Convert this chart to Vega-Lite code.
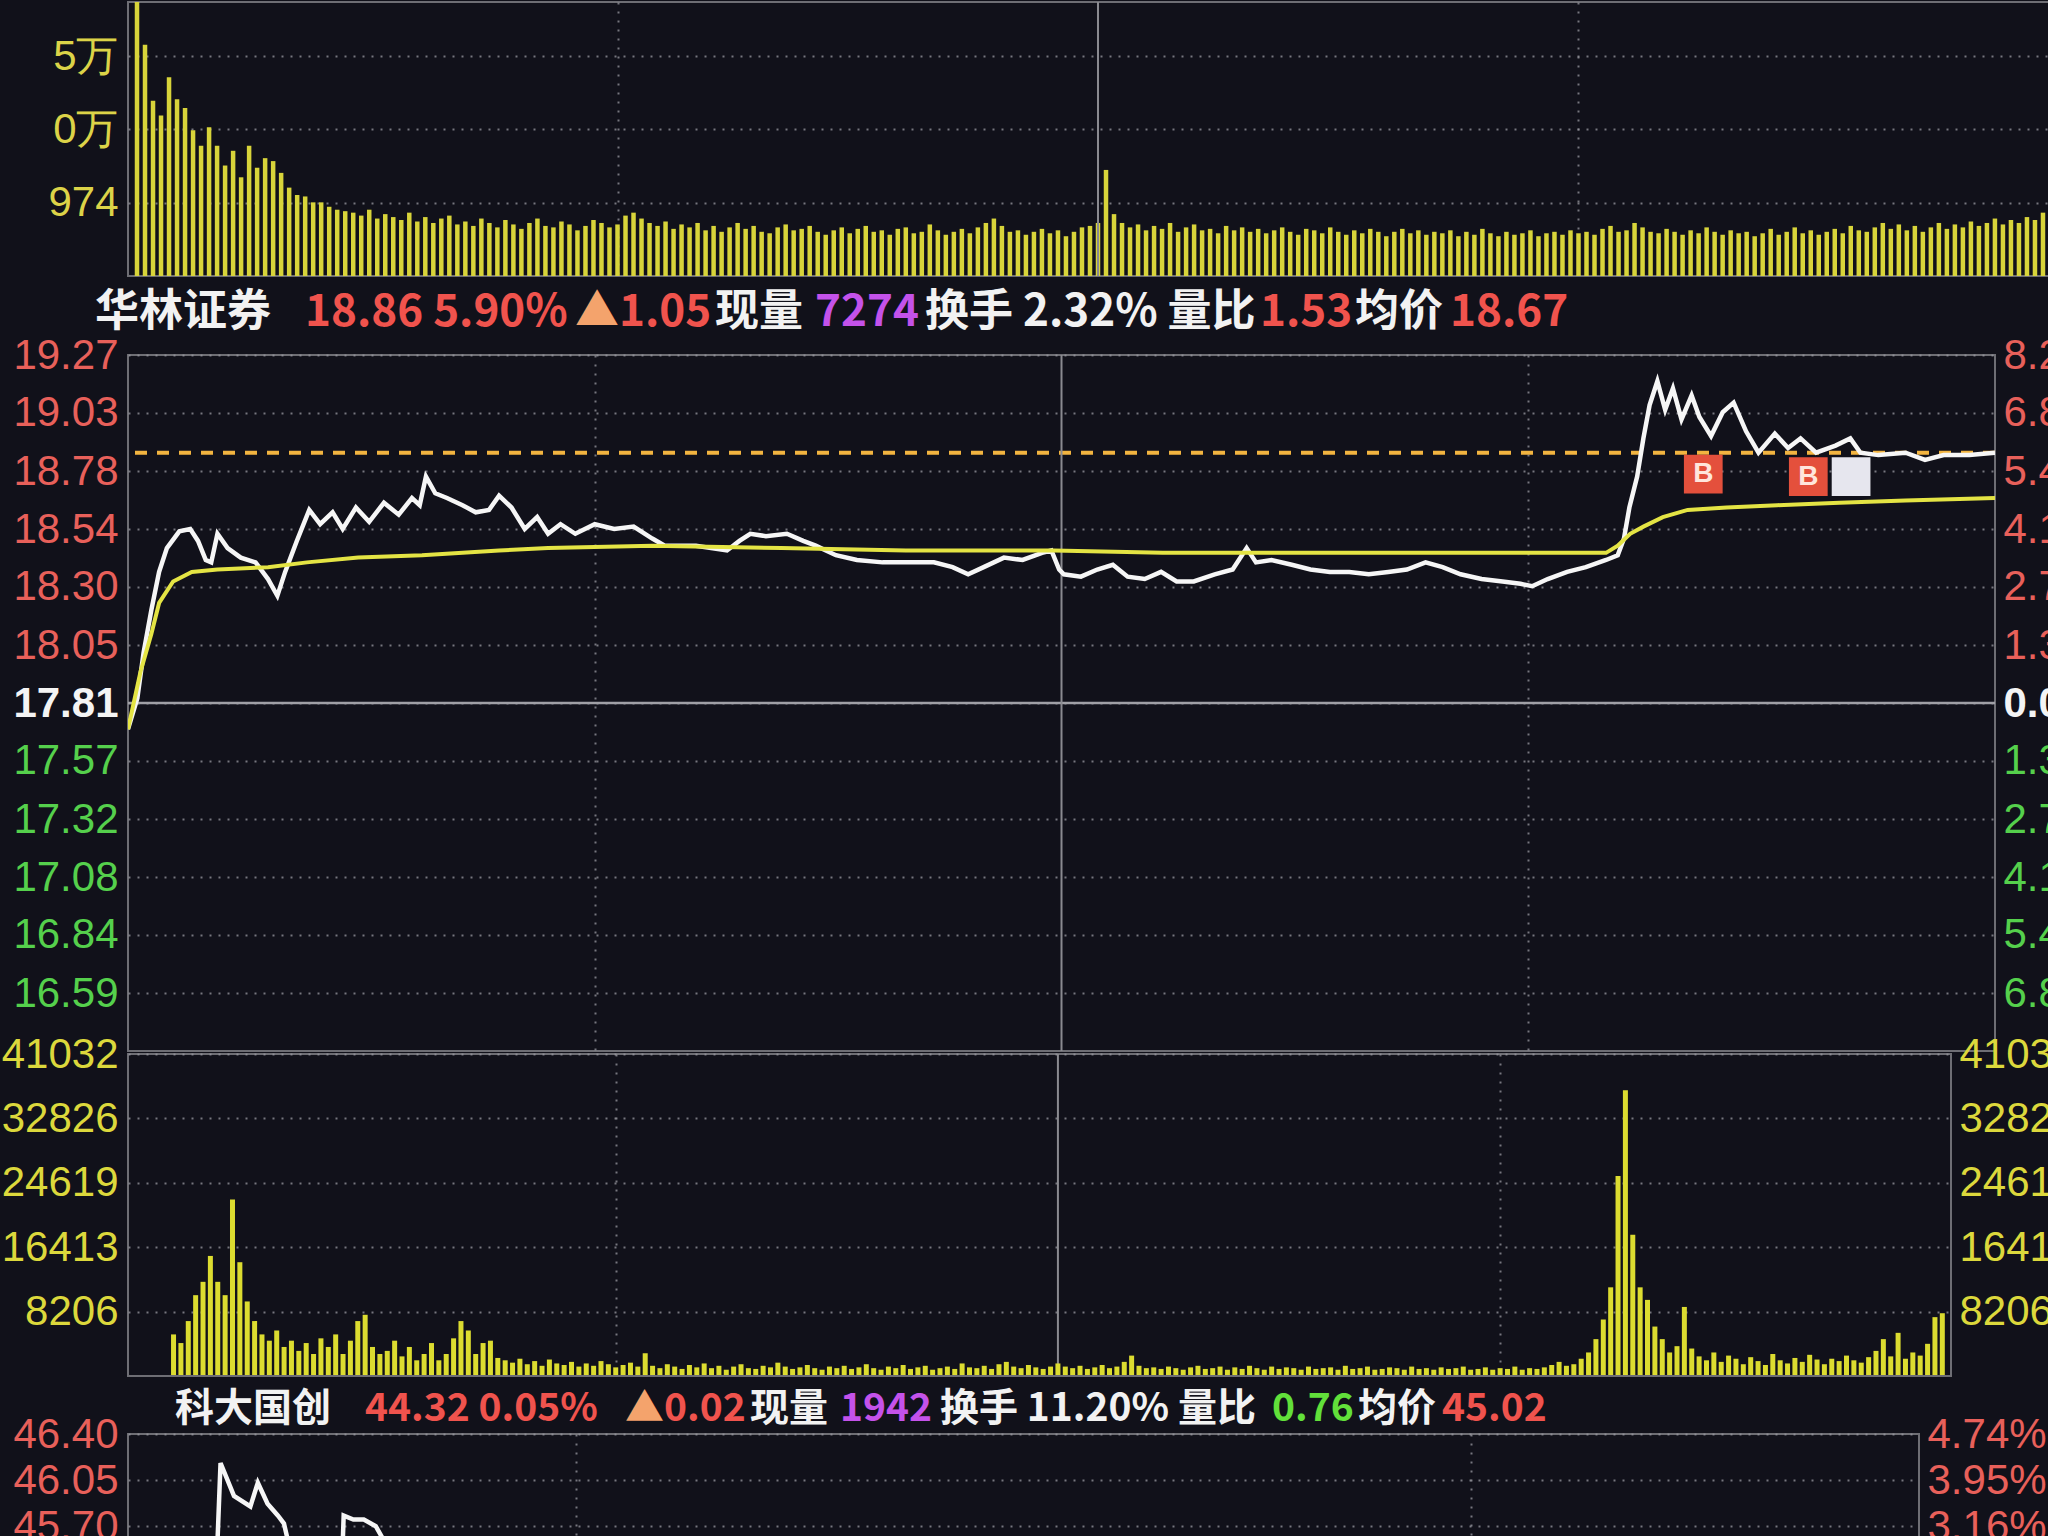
{
  "$schema": "https://vega.github.io/schema/vega-lite/v6.json",
  "background": "#11111a",
  "padding": 0,
  "spacing": -21,
  "resolve": {"scale": {"color": "independent"}},
  "config": {
    "view": {"stroke": "#6e6e74", "strokeWidth": 2},
    "axis": {
      "labelFont": "Liberation Sans", "labelFontSize": 42, "ticks": false, "domain": false,
      "labelPadding": 10, "gridColor": "#9a9aa0", "gridDash": [2, 7], "gridWidth": 2, "gridOpacity": 0.75,
      "labelOverlap": false, "labelFlush": false, "labelBound": false
    }
  },
  "datasets": {
    "topvol": [
      {"m":0,"v":24000},{"m":1,"v":15700},{"m":2,"v":11900},{"m":3,"v":10900},{"m":4,"v":13500},{"m":5,"v":12000},{"m":6,"v":11400},{"m":7,"v":9900},{"m":8,"v":8850},{"m":9,"v":10100},
      {"m":10,"v":8850},{"m":11,"v":7500},{"m":12,"v":8500},{"m":13,"v":6700},{"m":14,"v":8850},{"m":15,"v":7350},{"m":16,"v":8000},{"m":17,"v":7800},{"m":18,"v":7000},{"m":19,"v":6000},
      {"m":20,"v":5500},{"m":21,"v":5400},{"m":22,"v":5000},{"m":23,"v":5000},{"m":24,"v":4700},{"m":25,"v":4500},{"m":26,"v":4400},{"m":27,"v":4300},{"m":28,"v":4100},{"m":29,"v":4500},
      {"m":30,"v":3900},{"m":31,"v":4200},{"m":32,"v":4000},{"m":33,"v":3800},{"m":34,"v":4300},{"m":35,"v":3700},{"m":36,"v":4000},{"m":37,"v":3600},{"m":38,"v":3900},{"m":39,"v":4100},
      {"m":40,"v":3500},{"m":41,"v":3700},{"m":42,"v":3400},{"m":43,"v":3900},{"m":44,"v":3600},{"m":45,"v":3300},{"m":46,"v":3800},{"m":47,"v":3500},{"m":48,"v":3200},{"m":49,"v":3600},
      {"m":50,"v":3900},{"m":51,"v":3400},{"m":52,"v":3300},{"m":53,"v":3700},{"m":54,"v":3500},{"m":55,"v":3100},{"m":56,"v":3400},{"m":57,"v":3800},{"m":58,"v":3600},{"m":59,"v":3300},
      {"m":60,"v":3500},{"m":61,"v":4100},{"m":62,"v":4300},{"m":63,"v":3900},{"m":64,"v":3600},{"m":65,"v":3400},{"m":66,"v":3700},{"m":67,"v":3200},{"m":68,"v":3500},{"m":69,"v":3300},
      {"m":70,"v":3600},{"m":71,"v":3100},{"m":72,"v":3400},{"m":73,"v":3000},{"m":74,"v":3300},{"m":75,"v":3600},{"m":76,"v":3200},{"m":77,"v":3400},{"m":78,"v":3000},{"m":79,"v":2900},
      {"m":80,"v":3300},{"m":81,"v":3500},{"m":82,"v":3100},{"m":83,"v":3200},{"m":84,"v":3400},{"m":85,"v":3000},{"m":86,"v":2800},{"m":87,"v":3100},{"m":88,"v":3300},{"m":89,"v":2900},
      {"m":90,"v":3200},{"m":91,"v":3400},{"m":92,"v":3000},{"m":93,"v":3100},{"m":94,"v":2800},{"m":95,"v":3200},{"m":96,"v":3300},{"m":97,"v":2900},{"m":98,"v":3000},{"m":99,"v":3500},
      {"m":100,"v":3100},{"m":101,"v":2800},{"m":102,"v":3000},{"m":103,"v":3200},{"m":104,"v":2900},{"m":105,"v":3300},{"m":106,"v":3600},{"m":107,"v":3900},{"m":108,"v":3400},{"m":109,"v":3000},
      {"m":110,"v":3100},{"m":111,"v":2800},{"m":112,"v":3000},{"m":113,"v":3200},{"m":114,"v":2900},{"m":115,"v":3100},{"m":116,"v":2700},{"m":117,"v":3000},{"m":118,"v":3300},{"m":119,"v":3400},
      {"m":120,"v":3600},{"m":121,"v":7200},{"m":122,"v":4200},{"m":123,"v":3600},{"m":124,"v":3300},{"m":125,"v":3500},{"m":126,"v":3100},{"m":127,"v":3400},{"m":128,"v":3200},{"m":129,"v":3600},
      {"m":130,"v":3000},{"m":131,"v":3300},{"m":132,"v":3500},{"m":133,"v":3100},{"m":134,"v":3200},{"m":135,"v":2900},{"m":136,"v":3400},{"m":137,"v":3100},{"m":138,"v":3300},{"m":139,"v":3000},
      {"m":140,"v":3200},{"m":141,"v":2900},{"m":142,"v":3100},{"m":143,"v":3300},{"m":144,"v":3000},{"m":145,"v":2800},{"m":146,"v":3200},{"m":147,"v":3100},{"m":148,"v":2900},{"m":149,"v":3300},
      {"m":150,"v":3000},{"m":151,"v":2800},{"m":152,"v":3100},{"m":153,"v":2900},{"m":154,"v":3200},{"m":155,"v":3000},{"m":156,"v":2700},{"m":157,"v":3000},{"m":158,"v":3200},{"m":159,"v":2900},
      {"m":160,"v":3100},{"m":161,"v":2800},{"m":162,"v":3000},{"m":163,"v":2900},{"m":164,"v":3100},{"m":165,"v":2700},{"m":166,"v":3000},{"m":167,"v":2800},{"m":168,"v":3200},{"m":169,"v":2900},
      {"m":170,"v":2700},{"m":171,"v":3000},{"m":172,"v":2800},{"m":173,"v":2900},{"m":174,"v":3100},{"m":175,"v":2700},{"m":176,"v":2900},{"m":177,"v":3000},{"m":178,"v":2800},{"m":179,"v":3100},
      {"m":180,"v":2900},{"m":181,"v":3000},{"m":182,"v":2800},{"m":183,"v":3200},{"m":184,"v":3400},{"m":185,"v":3000},{"m":186,"v":3100},{"m":187,"v":3600},{"m":188,"v":3300},{"m":189,"v":3000},
      {"m":190,"v":2900},{"m":191,"v":3200},{"m":192,"v":3000},{"m":193,"v":2800},{"m":194,"v":3100},{"m":195,"v":2900},{"m":196,"v":3300},{"m":197,"v":3000},{"m":198,"v":2800},{"m":199,"v":3100},
      {"m":200,"v":2900},{"m":201,"v":3000},{"m":202,"v":2700},{"m":203,"v":2900},{"m":204,"v":3200},{"m":205,"v":2800},{"m":206,"v":3000},{"m":207,"v":3300},{"m":208,"v":2900},{"m":209,"v":3100},
      {"m":210,"v":2800},{"m":211,"v":3000},{"m":212,"v":3200},{"m":213,"v":2900},{"m":214,"v":3400},{"m":215,"v":3100},{"m":216,"v":3000},{"m":217,"v":3300},{"m":218,"v":3600},{"m":219,"v":3200},
      {"m":220,"v":3500},{"m":221,"v":3100},{"m":222,"v":3400},{"m":223,"v":3000},{"m":224,"v":3300},{"m":225,"v":3600},{"m":226,"v":3200},{"m":227,"v":3500},{"m":228,"v":3300},{"m":229,"v":3700},
      {"m":230,"v":3400},{"m":231,"v":3600},{"m":232,"v":3900},{"m":233,"v":3500},{"m":234,"v":3800},{"m":235,"v":3600},{"m":236,"v":4000},{"m":237,"v":3800},{"m":238,"v":4300},{"m":239,"v":4400},
      {"m":240,"v":4800}
    ],
    "price": [
      {"m":0,"p":17.70},{"m":1.2,"p":17.83},{"m":2,"p":18.02},{"m":3,"p":18.20},{"m":4,"p":18.36},{"m":5,"p":18.46},{"m":6.6,"p":18.53},{"m":8,"p":18.54},{"m":9,"p":18.49},{"m":10,"p":18.41},
      {"m":10.7,"p":18.40},{"m":11.5,"p":18.52},{"m":12.8,"p":18.46},{"m":14.5,"p":18.42},{"m":16.4,"p":18.40},{"m":18,"p":18.33},{"m":19.2,"p":18.26},{"m":20.2,"p":18.36},{"m":21.7,"p":18.49},{"m":23.3,"p":18.62},
      {"m":24.7,"p":18.56},{"m":26.3,"p":18.61},{"m":27.6,"p":18.54},{"m":29.3,"p":18.63},{"m":31,"p":18.57},{"m":32.9,"p":18.65},{"m":34.8,"p":18.60},{"m":36.5,"p":18.67},{"m":37.5,"p":18.64},{"m":38.3,"p":18.76},
      {"m":39.5,"p":18.69},{"m":41,"p":18.67},{"m":43,"p":18.64},{"m":44.7,"p":18.61},{"m":46.4,"p":18.62},{"m":47.7,"p":18.68},{"m":49.3,"p":18.63},{"m":51,"p":18.54},{"m":52.6,"p":18.59},{"m":54,"p":18.52},
      {"m":55.6,"p":18.56},{"m":57.5,"p":18.52},{"m":60,"p":18.56},{"m":62.5,"p":18.54},{"m":65,"p":18.55},{"m":67.4,"p":18.50},{"m":69,"p":18.47},{"m":73,"p":18.47},{"m":77,"p":18.45},{"m":78.6,"p":18.49},
      {"m":80,"p":18.52},{"m":82,"p":18.51},{"m":84.7,"p":18.52},{"m":86.8,"p":18.49},{"m":88.4,"p":18.47},{"m":91,"p":18.43},{"m":93.7,"p":18.41},{"m":97,"p":18.40},{"m":100,"p":18.40},{"m":103.6,"p":18.40},
      {"m":106,"p":18.38},{"m":108,"p":18.35},{"m":110,"p":18.38},{"m":112.6,"p":18.42},{"m":115,"p":18.41},{"m":117.5,"p":18.44},{"m":118.7,"p":18.45},{"m":119.7,"p":18.37},{"m":120.3,"p":18.35},{"m":122.5,"p":18.34},
      {"m":124.6,"p":18.37},{"m":126.6,"p":18.39},{"m":128.5,"p":18.34},{"m":130.7,"p":18.33},{"m":132.8,"p":18.36},{"m":134.8,"p":18.32},{"m":137,"p":18.32},{"m":139.7,"p":18.35},{"m":142,"p":18.37},{"m":143.8,"p":18.46},
      {"m":145,"p":18.40},{"m":147,"p":18.41},{"m":149.6,"p":18.39},{"m":152,"p":18.37},{"m":154.5,"p":18.36},{"m":157,"p":18.36},{"m":159.5,"p":18.35},{"m":162,"p":18.36},{"m":164.4,"p":18.37},{"m":166.8,"p":18.40},
      {"m":169,"p":18.38},{"m":171.3,"p":18.35},{"m":174,"p":18.33},{"m":176.7,"p":18.32},{"m":179,"p":18.31},{"m":180.5,"p":18.30},{"m":182.5,"p":18.33},{"m":185,"p":18.36},{"m":187.4,"p":18.38},{"m":190,"p":18.41},
      {"m":191.5,"p":18.43},{"m":192.3,"p":18.50},{"m":193,"p":18.63},{"m":194,"p":18.76},{"m":194.8,"p":18.92},{"m":195.6,"p":19.06},{"m":196.6,"p":19.16},{"m":197.6,"p":19.04},{"m":198.6,"p":19.13},{"m":199.7,"p":19.00},
      {"m":201,"p":19.10},{"m":202,"p":19.01},{"m":203.5,"p":18.93},{"m":205,"p":19.03},{"m":206.4,"p":19.07},{"m":208,"p":18.95},{"m":209.6,"p":18.86},{"m":211.7,"p":18.94},{"m":213.4,"p":18.88},{"m":215,"p":18.92},
      {"m":217,"p":18.86},{"m":219.5,"p":18.89},{"m":221.4,"p":18.92},{"m":222.7,"p":18.86},{"m":225,"p":18.85},{"m":228.5,"p":18.86},{"m":231,"p":18.83},{"m":233.4,"p":18.85},{"m":236.7,"p":18.85},{"m":240,"p":18.86}
    ],
    "avg": [
      {"m":0,"a":17.70},{"m":1.6,"a":17.94},{"m":3,"a":18.10},{"m":4,"a":18.23},{"m":5.8,"a":18.32},{"m":8.2,"a":18.36},{"m":11.5,"a":18.37},{"m":18,"a":18.38},{"m":23,"a":18.40},{"m":29.6,"a":18.42},
      {"m":37.8,"a":18.43},{"m":47.7,"a":18.45},{"m":54,"a":18.46},{"m":67.4,"a":18.47},{"m":84,"a":18.46},{"m":100,"a":18.45},{"m":119,"a":18.45},{"m":133,"a":18.44},{"m":149.6,"a":18.44},{"m":166,"a":18.44},
      {"m":190,"a":18.44},{"m":191.5,"a":18.47},{"m":193.1,"a":18.52},{"m":194.8,"a":18.55},{"m":197.3,"a":18.59},{"m":200.5,"a":18.62},{"m":205.5,"a":18.63},{"m":212,"a":18.64},{"m":220,"a":18.65},{"m":228.5,"a":18.66},
      {"m":240,"a":18.67}
    ],
    "signals": [
      {"m":202.5,"p":18.77,"k":"B","t":"B"},
      {"m":216,"p":18.76,"k":"B","t":"B"},
      {"m":221.5,"p":18.76,"k":"W","t":""}
    ],
    "noon": [{"m":120}],
    "pxlast": [{"p":18.86}],
    "pxprev": [{"p":17.81}],
    "volbase": [{"v":0}],
    "kdprev": [{"p":44.30}],
    "vol": [
      {"m":0,"v":5300},{"m":1,"v":4200},{"m":2,"v":7000},{"m":3,"v":10300},{"m":4,"v":12000},{"m":5,"v":15300},{"m":6,"v":12000},{"m":7,"v":10300},{"m":8,"v":22500},{"m":9,"v":14500},
      {"m":10,"v":9500},{"m":11,"v":7000},{"m":12,"v":5300},{"m":13,"v":4500},{"m":14,"v":5800},{"m":15,"v":3700},{"m":16,"v":4500},{"m":17,"v":3200},{"m":18,"v":4200},{"m":19,"v":2800},
      {"m":20,"v":4800},{"m":21,"v":3700},{"m":22,"v":5300},{"m":23,"v":2800},{"m":24,"v":4500},{"m":25,"v":7000},{"m":26,"v":7800},{"m":27,"v":3700},{"m":28,"v":2800},{"m":29,"v":3200},
      {"m":30,"v":4500},{"m":31,"v":2500},{"m":32,"v":3700},{"m":33,"v":2000},{"m":34,"v":2800},{"m":35,"v":4200},{"m":36,"v":2000},{"m":37,"v":2800},{"m":38,"v":4800},{"m":39,"v":7000},
      {"m":40,"v":5800},{"m":41,"v":2800},{"m":42,"v":4200},{"m":43,"v":4500},{"m":44,"v":2300},{"m":45,"v":2000},{"m":46,"v":1700},{"m":47,"v":2200},{"m":48,"v":1500},{"m":49,"v":1900},
      {"m":50,"v":1300},{"m":51,"v":2100},{"m":52,"v":1600},{"m":53,"v":1400},{"m":54,"v":1800},{"m":55,"v":1200},{"m":56,"v":1600},{"m":57,"v":1300},{"m":58,"v":1900},{"m":59,"v":1500},
      {"m":60,"v":1100},{"m":61,"v":1400},{"m":62,"v":1700},{"m":63,"v":1200},{"m":64,"v":2900},{"m":65,"v":1300},{"m":66,"v":1000},{"m":67,"v":1500},{"m":68,"v":1200},{"m":69,"v":900},
      {"m":70,"v":1400},{"m":71,"v":1100},{"m":72,"v":1600},{"m":73,"v":1000},{"m":74,"v":1300},{"m":75,"v":800},{"m":76,"v":1200},{"m":77,"v":1500},{"m":78,"v":1000},{"m":79,"v":900},
      {"m":80,"v":1300},{"m":81,"v":1100},{"m":82,"v":1700},{"m":83,"v":1200},{"m":84,"v":900},{"m":85,"v":1100},{"m":86,"v":1400},{"m":87,"v":1000},{"m":88,"v":800},{"m":89,"v":1200},
      {"m":90,"v":1000},{"m":91,"v":1300},{"m":92,"v":900},{"m":93,"v":1100},{"m":94,"v":1500},{"m":95,"v":1000},{"m":96,"v":800},{"m":97,"v":1200},{"m":98,"v":1000},{"m":99,"v":1400},
      {"m":100,"v":900},{"m":101,"v":1100},{"m":102,"v":1300},{"m":103,"v":800},{"m":104,"v":1000},{"m":105,"v":1200},{"m":106,"v":900},{"m":107,"v":1600},{"m":108,"v":1100},{"m":109,"v":1000},
      {"m":110,"v":1300},{"m":111,"v":900},{"m":112,"v":1500},{"m":113,"v":1800},{"m":114,"v":1200},{"m":115,"v":1000},{"m":116,"v":1400},{"m":117,"v":1100},{"m":118,"v":900},{"m":119,"v":1200},
      {"m":120,"v":1600},{"m":121,"v":1200},{"m":122,"v":1000},{"m":123,"v":1300},{"m":124,"v":900},{"m":125,"v":1100},{"m":126,"v":1400},{"m":127,"v":1000},{"m":128,"v":1200},{"m":129,"v":1800},
      {"m":130,"v":2600},{"m":131,"v":1300},{"m":132,"v":1000},{"m":133,"v":1100},{"m":134,"v":900},{"m":135,"v":1200},{"m":136,"v":1000},{"m":137,"v":800},{"m":138,"v":1100},{"m":139,"v":1300},
      {"m":140,"v":900},{"m":141,"v":1000},{"m":142,"v":1200},{"m":143,"v":800},{"m":144,"v":1100},{"m":145,"v":900},{"m":146,"v":1300},{"m":147,"v":1000},{"m":148,"v":800},{"m":149,"v":1200},
      {"m":150,"v":900},{"m":151,"v":1100},{"m":152,"v":1000},{"m":153,"v":800},{"m":154,"v":1200},{"m":155,"v":900},{"m":156,"v":1000},{"m":157,"v":1100},{"m":158,"v":800},{"m":159,"v":1300},
      {"m":160,"v":900},{"m":161,"v":1000},{"m":162,"v":1200},{"m":163,"v":800},{"m":164,"v":900},{"m":165,"v":1100},{"m":166,"v":1000},{"m":167,"v":800},{"m":168,"v":1200},{"m":169,"v":900},
      {"m":170,"v":1000},{"m":171,"v":800},{"m":172,"v":1100},{"m":173,"v":900},{"m":174,"v":1000},{"m":175,"v":1200},{"m":176,"v":800},{"m":177,"v":900},{"m":178,"v":1100},{"m":179,"v":800},
      {"m":180,"v":1000},{"m":181,"v":900},{"m":182,"v":1200},{"m":183,"v":800},{"m":184,"v":1000},{"m":185,"v":900},{"m":186,"v":1100},{"m":187,"v":1400},{"m":188,"v":1800},{"m":189,"v":1300},
      {"m":190,"v":1500},{"m":191,"v":2200},{"m":192,"v":3000},{"m":193,"v":4700},{"m":194,"v":7200},{"m":195,"v":11300},{"m":196,"v":25500},{"m":197,"v":36400},{"m":198,"v":18000},{"m":199,"v":11300},
      {"m":200,"v":9700},{"m":201,"v":6300},{"m":202,"v":4700},{"m":203,"v":3000},{"m":204,"v":3800},{"m":205,"v":8800},{"m":206,"v":3500},{"m":207,"v":2500},{"m":208,"v":2000},{"m":209,"v":3000},
      {"m":210,"v":1800},{"m":211,"v":2600},{"m":212,"v":2200},{"m":213,"v":1500},{"m":214,"v":2400},{"m":215,"v":1900},{"m":216,"v":1400},{"m":217,"v":2800},{"m":218,"v":2000},{"m":219,"v":1600},
      {"m":220,"v":2300},{"m":221,"v":1800},{"m":222,"v":2700},{"m":223,"v":2100},{"m":224,"v":1500},{"m":225,"v":2200},{"m":226,"v":1900},{"m":227,"v":2600},{"m":228,"v":2000},{"m":229,"v":1700},
      {"m":230,"v":2400},{"m":231,"v":3200},{"m":232,"v":4700},{"m":233,"v":2500},{"m":234,"v":5500},{"m":235,"v":2200},{"m":236,"v":3000},{"m":237,"v":2600},{"m":238,"v":4100},{"m":239,"v":7500},
      {"m":240,"v":8000}
    ],
    "kdprice": [
      {"m":0,"p":45.30},{"m":6,"p":45.20},{"m":11.9,"p":45.45},{"m":12.4,"p":46.18},{"m":14.2,"p":45.93},{"m":16.4,"p":45.85},{"m":17.4,"p":46.03},{"m":18.7,"p":45.87},{"m":20.1,"p":45.78},{"m":20.9,"p":45.72},
      {"m":21.8,"p":45.50},{"m":25,"p":45.30},{"m":28.7,"p":45.45},{"m":28.9,"p":45.78},{"m":30.2,"p":45.75},{"m":31.6,"p":45.75},{"m":33.2,"p":45.70},{"m":35.2,"p":45.50},{"m":40,"p":45.35},{"m":50,"p":45.10}
    ],
    "hdr1": [
      {"g":1,"t":"华林证券","tone":"plain"},
      {"g":2,"t":"18.86 5.90%","tone":"up"},
      {"g":3,"t":"▲","tone":"arrow"},
      {"g":4,"t":"1.05","tone":"up"},
      {"g":5,"t":"现量","tone":"plain"},
      {"g":6,"t":"7274","tone":"vol"},
      {"g":7,"t":"换手 2.32% 量比","tone":"plain"},
      {"g":8,"t":"1.53","tone":"up"},
      {"g":9,"t":"均价","tone":"plain"},
      {"g":10,"t":"18.67","tone":"up"}
    ],
    "hdr2": [
      {"g":1,"t":"科大国创","tone":"plain"},
      {"g":2,"t":"44.32 0.05%","tone":"up"},
      {"g":3,"t":"▲","tone":"arrow"},
      {"g":4,"t":"0.02","tone":"up"},
      {"g":5,"t":"现量","tone":"plain"},
      {"g":6,"t":"1942","tone":"vol"},
      {"g":7,"t":"换手 11.20% 量比","tone":"plain"},
      {"g":8,"t":"0.76","tone":"down"},
      {"g":9,"t":"均价","tone":"plain"},
      {"g":10,"t":"45.02","tone":"up"}
    ]
  },
  "vconcat": [
    {
      "width": 1940, "height": 274,
      "layer": [
        {
          "data": {"name": "topvol"},
          "mark": {"type": "bar", "color": "#d8d43a", "size": 4.5, "clip": true},
          "encoding": {
            "x": {"field": "m", "type": "quantitative", "title": null, "scale": {"domain": [-0.5, 240.5], "nice": false}, "axis": {"labels": false, "grid": true, "values": [60, 180], "title": null}},
            "y": {"field": "v", "type": "quantitative", "title": null, "scale": {"domain": [0, 18600], "nice": false},
                  "axis": {"values": [4974, 9948, 14922], "grid": true, "labelColor": "#dcd348",
                           "labelExpr": "datum.value > 14000 ? '5万' : (datum.value > 9000 ? '0万' : '974')"}}
          }
        },
        {
          "data": {"name": "noon"},
          "mark": {"type": "rule", "color": "#8a8a90", "strokeWidth": 2},
          "encoding": {"x": {"field": "m", "type": "quantitative", "title": null, "scale": {"domain": [-0.5, 240.5], "nice": false}, "axis": {"labels": false, "grid": true, "values": [60, 180], "title": null}}}
        }
      ]
    },
    {
      "hconcat": [
        {"width": 210, "height": 76, "view": {"stroke": null}, "data": {"name": "hdr1"}, "transform": [{"filter": "datum.g == 1"}],
         "mark": {"type": "text", "align": "left", "baseline": "middle", "dx": -33, "dy": -3, "font": "Noto Sans CJK SC", "fontSize": 44, "fontWeight": "bold"},
         "encoding": {"x": {"datum": 0, "type": "quantitative", "scale": {"domain": [0, 1]}, "axis": null}, "text": {"field": "t", "type": "nominal"},
                      "color": {"field": "tone", "type": "nominal", "legend": null, "scale": {"domain": ["plain", "up", "down", "vol", "arrow"], "range": ["#f2f2f2", "#f0534d", "#62e03a", "#c452ea", "#f4a36c"]}}}},
        {"width": 270, "height": 76, "view": {"stroke": null}, "data": {"name": "hdr1"}, "transform": [{"filter": "datum.g == 2"}],
         "mark": {"type": "text", "align": "left", "baseline": "middle", "dx": -33, "dy": -3, "font": "Noto Sans CJK SC", "fontSize": 44, "fontWeight": "bold"},
         "encoding": {"x": {"datum": 0, "type": "quantitative", "scale": {"domain": [0, 1]}, "axis": null}, "text": {"field": "t", "type": "nominal"},
                      "color": {"field": "tone", "type": "nominal", "legend": null, "scale": {"domain": ["plain", "up", "down", "vol", "arrow"], "range": ["#f2f2f2", "#f0534d", "#62e03a", "#c452ea", "#f4a36c"]}}}},
        {"width": 44, "height": 76, "view": {"stroke": null}, "data": {"name": "hdr1"}, "transform": [{"filter": "datum.g == 3"}],
         "mark": {"type": "text", "align": "left", "baseline": "middle", "dx": -33, "dy": -3, "font": "Noto Sans CJK SC", "fontSize": 44, "fontWeight": "bold"},
         "encoding": {"x": {"datum": 0, "type": "quantitative", "scale": {"domain": [0, 1]}, "axis": null}, "text": {"field": "t", "type": "nominal"},
                      "color": {"field": "tone", "type": "nominal", "legend": null, "scale": {"domain": ["plain", "up", "down", "vol", "arrow"], "range": ["#f2f2f2", "#f0534d", "#62e03a", "#c452ea", "#f4a36c"]}}}},
        {"width": 96, "height": 76, "view": {"stroke": null}, "data": {"name": "hdr1"}, "transform": [{"filter": "datum.g == 4"}],
         "mark": {"type": "text", "align": "left", "baseline": "middle", "dx": -33, "dy": -3, "font": "Noto Sans CJK SC", "fontSize": 44, "fontWeight": "bold"},
         "encoding": {"x": {"datum": 0, "type": "quantitative", "scale": {"domain": [0, 1]}, "axis": null}, "text": {"field": "t", "type": "nominal"},
                      "color": {"field": "tone", "type": "nominal", "legend": null, "scale": {"domain": ["plain", "up", "down", "vol", "arrow"], "range": ["#f2f2f2", "#f0534d", "#62e03a", "#c452ea", "#f4a36c"]}}}},
        {"width": 100, "height": 76, "view": {"stroke": null}, "data": {"name": "hdr1"}, "transform": [{"filter": "datum.g == 5"}],
         "mark": {"type": "text", "align": "left", "baseline": "middle", "dx": -33, "dy": -3, "font": "Noto Sans CJK SC", "fontSize": 44, "fontWeight": "bold"},
         "encoding": {"x": {"datum": 0, "type": "quantitative", "scale": {"domain": [0, 1]}, "axis": null}, "text": {"field": "t", "type": "nominal"},
                      "color": {"field": "tone", "type": "nominal", "legend": null, "scale": {"domain": ["plain", "up", "down", "vol", "arrow"], "range": ["#f2f2f2", "#f0534d", "#62e03a", "#c452ea", "#f4a36c"]}}}},
        {"width": 110, "height": 76, "view": {"stroke": null}, "data": {"name": "hdr1"}, "transform": [{"filter": "datum.g == 6"}],
         "mark": {"type": "text", "align": "left", "baseline": "middle", "dx": -33, "dy": -3, "font": "Noto Sans CJK SC", "fontSize": 44, "fontWeight": "bold"},
         "encoding": {"x": {"datum": 0, "type": "quantitative", "scale": {"domain": [0, 1]}, "axis": null}, "text": {"field": "t", "type": "nominal"},
                      "color": {"field": "tone", "type": "nominal", "legend": null, "scale": {"domain": ["plain", "up", "down", "vol", "arrow"], "range": ["#f2f2f2", "#f0534d", "#62e03a", "#c452ea", "#f4a36c"]}}}},
        {"width": 335, "height": 76, "view": {"stroke": null}, "data": {"name": "hdr1"}, "transform": [{"filter": "datum.g == 7"}],
         "mark": {"type": "text", "align": "left", "baseline": "middle", "dx": -33, "dy": -3, "font": "Noto Sans CJK SC", "fontSize": 44, "fontWeight": "bold"},
         "encoding": {"x": {"datum": 0, "type": "quantitative", "scale": {"domain": [0, 1]}, "axis": null}, "text": {"field": "t", "type": "nominal"},
                      "color": {"field": "tone", "type": "nominal", "legend": null, "scale": {"domain": ["plain", "up", "down", "vol", "arrow"], "range": ["#f2f2f2", "#f0534d", "#62e03a", "#c452ea", "#f4a36c"]}}}},
        {"width": 95, "height": 76, "view": {"stroke": null}, "data": {"name": "hdr1"}, "transform": [{"filter": "datum.g == 8"}],
         "mark": {"type": "text", "align": "left", "baseline": "middle", "dx": -33, "dy": -3, "font": "Noto Sans CJK SC", "fontSize": 44, "fontWeight": "bold"},
         "encoding": {"x": {"datum": 0, "type": "quantitative", "scale": {"domain": [0, 1]}, "axis": null}, "text": {"field": "t", "type": "nominal"},
                      "color": {"field": "tone", "type": "nominal", "legend": null, "scale": {"domain": ["plain", "up", "down", "vol", "arrow"], "range": ["#f2f2f2", "#f0534d", "#62e03a", "#c452ea", "#f4a36c"]}}}},
        {"width": 95, "height": 76, "view": {"stroke": null}, "data": {"name": "hdr1"}, "transform": [{"filter": "datum.g == 9"}],
         "mark": {"type": "text", "align": "left", "baseline": "middle", "dx": -33, "dy": -3, "font": "Noto Sans CJK SC", "fontSize": 44, "fontWeight": "bold"},
         "encoding": {"x": {"datum": 0, "type": "quantitative", "scale": {"domain": [0, 1]}, "axis": null}, "text": {"field": "t", "type": "nominal"},
                      "color": {"field": "tone", "type": "nominal", "legend": null, "scale": {"domain": ["plain", "up", "down", "vol", "arrow"], "range": ["#f2f2f2", "#f0534d", "#62e03a", "#c452ea", "#f4a36c"]}}}},
        {"width": 170, "height": 76, "view": {"stroke": null}, "data": {"name": "hdr1"}, "transform": [{"filter": "datum.g == 10"}],
         "mark": {"type": "text", "align": "left", "baseline": "middle", "dx": -33, "dy": -3, "font": "Noto Sans CJK SC", "fontSize": 44, "fontWeight": "bold"},
         "encoding": {"x": {"datum": 0, "type": "quantitative", "scale": {"domain": [0, 1]}, "axis": null}, "text": {"field": "t", "type": "nominal"},
                      "color": {"field": "tone", "type": "nominal", "legend": null, "scale": {"domain": ["plain", "up", "down", "vol", "arrow"], "range": ["#f2f2f2", "#f0534d", "#62e03a", "#c452ea", "#f4a36c"]}}}}
      ],
      "spacing": 0,
      "bounds": "flush"
    },
    {
      "width": 1867, "height": 696,
      "resolve": {"scale": {"y": "independent"}},
      "layer": [
        {
          "data": {"name": "pxlast"},
          "mark": {"type": "rule", "color": "#f2b440", "strokeWidth": 4, "strokeDash": [12, 10]},
          "encoding": {"y": {"field": "p", "type": "quantitative", "title": null, "scale": {"domain": [16.35, 19.27], "nice": false}, "axis": null}}
        },
        {
          "data": {"name": "pxprev"},
          "mark": {"type": "rule", "color": "#a0a0a6", "strokeWidth": 2.5},
          "encoding": {"y": {"field": "p", "type": "quantitative", "title": null, "scale": {"domain": [16.35, 19.27], "nice": false},
            "axis": {"orient": "right", "labelPadding": 8,
                     "values": [19.27, 19.0267, 18.7833, 18.54, 18.2967, 18.0533, 17.81, 17.5667, 17.3233, 17.08, 16.8367, 16.5933],
                     "labelExpr": "format(abs(datum.value - 17.81) / 17.81 * 100, '.2f') + '%'",
                     "labelColor": {"expr": "datum.value > 17.815 ? '#e8605a' : (datum.value < 17.805 ? '#55d04c' : '#f4f4f4')"},
                     "labelFontWeight": {"expr": "abs(datum.value - 17.81) < 0.005 ? 'bold' : 'normal'"}}}}
        },
        {
          "data": {"name": "noon"},
          "mark": {"type": "rule", "color": "#8a8a90", "strokeWidth": 2},
          "encoding": {"x": {"field": "m", "type": "quantitative", "title": null, "scale": {"domain": [0, 240], "nice": false}, "axis": {"labels": false, "grid": true, "values": [60, 180], "title": null}}}
        },
        {
          "data": {"name": "price"},
          "mark": {"type": "line", "color": "#f6f6f6", "strokeWidth": 4.5, "clip": true},
          "encoding": {
            "x": {"field": "m", "type": "quantitative", "title": null, "scale": {"domain": [0, 240], "nice": false}, "axis": {"labels": false, "grid": true, "values": [60, 180], "title": null}},
            "y": {"field": "p", "type": "quantitative", "title": null, "scale": {"domain": [16.35, 19.27], "nice": false},
                  "axis": {"grid": true, "format": ".2f",
                           "values": [19.27, 19.0267, 18.7833, 18.54, 18.2967, 18.0533, 17.81, 17.5667, 17.3233, 17.08, 16.8367, 16.5933],
                           "labelColor": {"expr": "datum.value > 17.815 ? '#e8605a' : (datum.value < 17.805 ? '#55d04c' : '#f4f4f4')"},
                           "labelFontWeight": {"expr": "abs(datum.value - 17.81) < 0.005 ? 'bold' : 'normal'"}}}
          }
        },
        {
          "data": {"name": "avg"},
          "mark": {"type": "line", "color": "#e4e444", "strokeWidth": 4, "clip": true},
          "encoding": {
            "x": {"field": "m", "type": "quantitative", "title": null, "scale": {"domain": [0, 240], "nice": false}, "axis": {"labels": false, "grid": true, "values": [60, 180], "title": null}},
            "y": {"field": "a", "type": "quantitative", "title": null, "scale": {"domain": [16.35, 19.27], "nice": false}, "axis": null}
          }
        },
        {
          "data": {"name": "signals"},
          "mark": {"type": "point", "shape": "square", "filled": true, "size": 1500, "opacity": 1},
          "encoding": {
            "x": {"field": "m", "type": "quantitative", "title": null, "scale": {"domain": [0, 240], "nice": false}, "axis": {"labels": false, "grid": true, "values": [60, 180], "title": null}},
            "y": {"field": "p", "type": "quantitative", "title": null, "scale": {"domain": [16.35, 19.27], "nice": false}, "axis": null},
            "color": {"field": "k", "type": "nominal", "legend": null, "scale": {"domain": ["B", "W"], "range": ["#e4503c", "#e6e6ee"]}}
          }
        },
        {
          "data": {"name": "signals"},
          "mark": {"type": "text", "font": "Liberation Sans", "fontSize": 28, "fontWeight": "bold", "color": "#ffe6dc", "baseline": "middle"},
          "encoding": {
            "x": {"field": "m", "type": "quantitative", "title": null, "scale": {"domain": [0, 240], "nice": false}, "axis": {"labels": false, "grid": true, "values": [60, 180], "title": null}},
            "y": {"field": "p", "type": "quantitative", "title": null, "scale": {"domain": [16.35, 19.27], "nice": false}, "axis": null},
            "text": {"field": "t", "type": "nominal"}
          }
        }
      ]
    },
    {
      "width": 1823, "height": 322,
      "resolve": {"scale": {"y": "independent"}},
      "layer": [
        {
          "data": {"name": "noon"},
          "mark": {"type": "rule", "color": "#8a8a90", "strokeWidth": 2},
          "encoding": {"x": {"field": "m", "type": "quantitative", "title": null, "scale": {"domain": [-5.5, 240.5], "nice": false}, "axis": {"labels": false, "grid": true, "values": [60, 180], "title": null}}}
        },
        {
          "data": {"name": "vol"},
          "mark": {"type": "bar", "color": "#dcdc30", "size": 5, "clip": true},
          "encoding": {
            "x": {"field": "m", "type": "quantitative", "title": null, "scale": {"domain": [-5.5, 240.5], "nice": false}, "axis": {"labels": false, "grid": true, "values": [60, 180], "title": null}},
            "y": {"field": "v", "type": "quantitative", "title": null, "scale": {"domain": [0, 41032], "nice": false},
                  "axis": {"grid": true, "format": "d", "values": [8206.4, 16412.8, 24619.2, 32825.6, 41032], "labelColor": "#dcd83c"}}
          }
        },
        {
          "data": {"name": "volbase"},
          "mark": {"type": "rule", "color": "#6e6e74", "strokeWidth": 2},
          "encoding": {"y": {"field": "v", "type": "quantitative", "title": null, "scale": {"domain": [0, 41032], "nice": false},
            "axis": {"orient": "right", "labelPadding": 8, "format": "d", "values": [8206.4, 16412.8, 24619.2, 32825.6, 41032], "labelColor": "#dcd83c"}}}
        }
      ]
    },
    {
      "hconcat": [
        {"width": 190, "height": 55, "view": {"stroke": null}, "data": {"name": "hdr2"}, "transform": [{"filter": "datum.g == 1"}],
         "mark": {"type": "text", "align": "left", "baseline": "middle", "dx": 47, "dy": 3, "font": "Noto Sans CJK SC", "fontSize": 39, "fontWeight": "bold"},
         "encoding": {"x": {"datum": 0, "type": "quantitative", "scale": {"domain": [0, 1]}, "axis": null}, "text": {"field": "t", "type": "nominal"},
                      "color": {"field": "tone", "type": "nominal", "legend": null, "scale": {"domain": ["plain", "up", "down", "vol", "arrow"], "range": ["#f2f2f2", "#f0534d", "#62e03a", "#c452ea", "#f4a36c"]}}}},
        {"width": 260, "height": 55, "view": {"stroke": null}, "data": {"name": "hdr2"}, "transform": [{"filter": "datum.g == 2"}],
         "mark": {"type": "text", "align": "left", "baseline": "middle", "dx": 47, "dy": 3, "font": "Noto Sans CJK SC", "fontSize": 39, "fontWeight": "bold"},
         "encoding": {"x": {"datum": 0, "type": "quantitative", "scale": {"domain": [0, 1]}, "axis": null}, "text": {"field": "t", "type": "nominal"},
                      "color": {"field": "tone", "type": "nominal", "legend": null, "scale": {"domain": ["plain", "up", "down", "vol", "arrow"], "range": ["#f2f2f2", "#f0534d", "#62e03a", "#c452ea", "#f4a36c"]}}}},
        {"width": 39, "height": 55, "view": {"stroke": null}, "data": {"name": "hdr2"}, "transform": [{"filter": "datum.g == 3"}],
         "mark": {"type": "text", "align": "left", "baseline": "middle", "dx": 47, "dy": 3, "font": "Noto Sans CJK SC", "fontSize": 39, "fontWeight": "bold"},
         "encoding": {"x": {"datum": 0, "type": "quantitative", "scale": {"domain": [0, 1]}, "axis": null}, "text": {"field": "t", "type": "nominal"},
                      "color": {"field": "tone", "type": "nominal", "legend": null, "scale": {"domain": ["plain", "up", "down", "vol", "arrow"], "range": ["#f2f2f2", "#f0534d", "#62e03a", "#c452ea", "#f4a36c"]}}}},
        {"width": 86, "height": 55, "view": {"stroke": null}, "data": {"name": "hdr2"}, "transform": [{"filter": "datum.g == 4"}],
         "mark": {"type": "text", "align": "left", "baseline": "middle", "dx": 47, "dy": 3, "font": "Noto Sans CJK SC", "fontSize": 39, "fontWeight": "bold"},
         "encoding": {"x": {"datum": 0, "type": "quantitative", "scale": {"domain": [0, 1]}, "axis": null}, "text": {"field": "t", "type": "nominal"},
                      "color": {"field": "tone", "type": "nominal", "legend": null, "scale": {"domain": ["plain", "up", "down", "vol", "arrow"], "range": ["#f2f2f2", "#f0534d", "#62e03a", "#c452ea", "#f4a36c"]}}}},
        {"width": 90, "height": 55, "view": {"stroke": null}, "data": {"name": "hdr2"}, "transform": [{"filter": "datum.g == 5"}],
         "mark": {"type": "text", "align": "left", "baseline": "middle", "dx": 47, "dy": 3, "font": "Noto Sans CJK SC", "fontSize": 39, "fontWeight": "bold"},
         "encoding": {"x": {"datum": 0, "type": "quantitative", "scale": {"domain": [0, 1]}, "axis": null}, "text": {"field": "t", "type": "nominal"},
                      "color": {"field": "tone", "type": "nominal", "legend": null, "scale": {"domain": ["plain", "up", "down", "vol", "arrow"], "range": ["#f2f2f2", "#f0534d", "#62e03a", "#c452ea", "#f4a36c"]}}}},
        {"width": 100, "height": 55, "view": {"stroke": null}, "data": {"name": "hdr2"}, "transform": [{"filter": "datum.g == 6"}],
         "mark": {"type": "text", "align": "left", "baseline": "middle", "dx": 47, "dy": 3, "font": "Noto Sans CJK SC", "fontSize": 39, "fontWeight": "bold"},
         "encoding": {"x": {"datum": 0, "type": "quantitative", "scale": {"domain": [0, 1]}, "axis": null}, "text": {"field": "t", "type": "nominal"},
                      "color": {"field": "tone", "type": "nominal", "legend": null, "scale": {"domain": ["plain", "up", "down", "vol", "arrow"], "range": ["#f2f2f2", "#f0534d", "#62e03a", "#c452ea", "#f4a36c"]}}}},
        {"width": 332, "height": 55, "view": {"stroke": null}, "data": {"name": "hdr2"}, "transform": [{"filter": "datum.g == 7"}],
         "mark": {"type": "text", "align": "left", "baseline": "middle", "dx": 47, "dy": 3, "font": "Noto Sans CJK SC", "fontSize": 39, "fontWeight": "bold"},
         "encoding": {"x": {"datum": 0, "type": "quantitative", "scale": {"domain": [0, 1]}, "axis": null}, "text": {"field": "t", "type": "nominal"},
                      "color": {"field": "tone", "type": "nominal", "legend": null, "scale": {"domain": ["plain", "up", "down", "vol", "arrow"], "range": ["#f2f2f2", "#f0534d", "#62e03a", "#c452ea", "#f4a36c"]}}}},
        {"width": 86, "height": 55, "view": {"stroke": null}, "data": {"name": "hdr2"}, "transform": [{"filter": "datum.g == 8"}],
         "mark": {"type": "text", "align": "left", "baseline": "middle", "dx": 47, "dy": 3, "font": "Noto Sans CJK SC", "fontSize": 39, "fontWeight": "bold"},
         "encoding": {"x": {"datum": 0, "type": "quantitative", "scale": {"domain": [0, 1]}, "axis": null}, "text": {"field": "t", "type": "nominal"},
                      "color": {"field": "tone", "type": "nominal", "legend": null, "scale": {"domain": ["plain", "up", "down", "vol", "arrow"], "range": ["#f2f2f2", "#f0534d", "#62e03a", "#c452ea", "#f4a36c"]}}}},
        {"width": 84, "height": 55, "view": {"stroke": null}, "data": {"name": "hdr2"}, "transform": [{"filter": "datum.g == 9"}],
         "mark": {"type": "text", "align": "left", "baseline": "middle", "dx": 47, "dy": 3, "font": "Noto Sans CJK SC", "fontSize": 39, "fontWeight": "bold"},
         "encoding": {"x": {"datum": 0, "type": "quantitative", "scale": {"domain": [0, 1]}, "axis": null}, "text": {"field": "t", "type": "nominal"},
                      "color": {"field": "tone", "type": "nominal", "legend": null, "scale": {"domain": ["plain", "up", "down", "vol", "arrow"], "range": ["#f2f2f2", "#f0534d", "#62e03a", "#c452ea", "#f4a36c"]}}}},
        {"width": 130, "height": 55, "view": {"stroke": null}, "data": {"name": "hdr2"}, "transform": [{"filter": "datum.g == 10"}],
         "mark": {"type": "text", "align": "left", "baseline": "middle", "dx": 47, "dy": 3, "font": "Noto Sans CJK SC", "fontSize": 39, "fontWeight": "bold"},
         "encoding": {"x": {"datum": 0, "type": "quantitative", "scale": {"domain": [0, 1]}, "axis": null}, "text": {"field": "t", "type": "nominal"},
                      "color": {"field": "tone", "type": "nominal", "legend": null, "scale": {"domain": ["plain", "up", "down", "vol", "arrow"], "range": ["#f2f2f2", "#f0534d", "#62e03a", "#c452ea", "#f4a36c"]}}}}
      ],
      "spacing": 0,
      "bounds": "flush"
    },
    {
      "width": 1791, "height": 108,
      "resolve": {"scale": {"y": "independent"}},
      "layer": [
        {
          "data": {"name": "kdprice"},
          "mark": {"type": "line", "color": "#f6f6f6", "strokeWidth": 4.5, "clip": true},
          "encoding": {
            "x": {"field": "m", "type": "quantitative", "title": null, "scale": {"domain": [0, 240], "nice": false}, "axis": {"labels": false, "grid": true, "values": [60, 180], "title": null}},
            "y": {"field": "p", "type": "quantitative", "title": null, "scale": {"domain": [45.58, 46.40], "nice": false},
                  "axis": {"grid": true, "format": ".2f", "values": [46.40, 46.05, 45.70], "labelColor": "#e8605a"}}
          }
        },
        {
          "data": {"name": "kdprev"},
          "mark": {"type": "rule", "color": "#a0a0a6", "strokeWidth": 2, "clip": true},
          "encoding": {"y": {"field": "p", "type": "quantitative", "title": null, "scale": {"domain": [45.58, 46.40], "nice": false},
            "axis": {"orient": "right", "labelPadding": 8, "values": [46.40, 46.05, 45.70], "labelColor": "#e8605a",
                     "labelExpr": "format(abs(datum.value - 44.30) / 44.30 * 100, '.2f') + '%'"}}}
        }
      ]
    }
  ]
}
